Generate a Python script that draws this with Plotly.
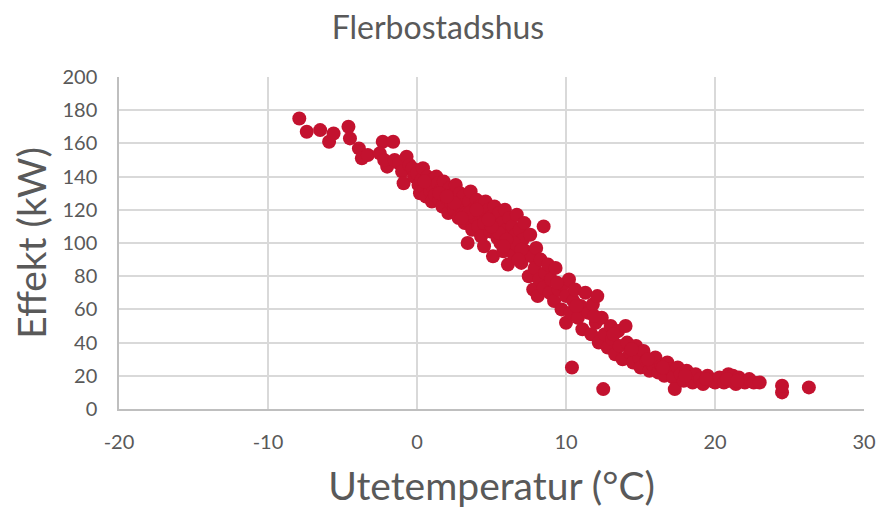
import plotly.graph_objects as go

title_text = "Flerbostadshus"
x_title = "Utetemperatur (°C)"
y_title = "Effekt (kW)"

temp_c = [
    -7.9, -7.4, -6.5, -5.9, -5.6, -4.6, -4.5, -3.9, -3.7, -3.3, -2.3, -2.5, -1.6, -2.0, -2.2,
    -1.5, -1.2, -1.0, -0.9, -0.7, -0.5, -0.3, -0.2,
    0.0, 0.1, 0.2, 0.3, 0.4, 0.5, 0.6, 0.7, 0.8, 0.9, 1.0, 1.0, 1.1, 1.2, 1.3, 1.4, 1.5,
    1.6, 1.7, 1.8, 1.9, 2.0, 2.1, 2.2, 2.3, 2.4, 2.5, 2.6, 2.7, 2.8, 2.9, 3.0, 3.1, 3.2,
    3.3, 3.4, 3.5, 3.6, 3.7, 3.8, 3.9, 4.0, 4.1, 4.2, 4.3, 4.4, 4.5, 4.6, 4.7, 4.8, 4.9,
    5.0, 5.1, 5.2, 5.3, 5.4, 5.5, 5.6, 5.7, 5.8, 5.9, 6.0, 6.1, 6.2, 6.3, 6.4, 6.5, 6.6,
    6.7, 6.8, 6.9, 7.0, 7.1, 7.2, 7.3, 7.5, 7.6, 7.7, 7.8, 7.9, 8.0, 8.1, 8.2, 8.3, 8.5,
    8.5, 8.6, 8.8, 8.9, 9.0, 9.2, 9.3, 9.5, 9.7, 9.8, 10.0, 10.0, 10.2, 10.3, 10.4, 10.5,
    10.6, 10.8, 11.0, 11.1, 11.3, 11.5, 11.7, 11.8, 12.0, 12.1, 12.2, 12.5, 12.4, 12.6,
    12.8, 13.0, 13.1, 13.3, 13.5, 13.6, 13.8, 14.0, 14.1, 14.3, 14.5, 14.7, 14.9, 15.0,
    15.2, 15.4, 15.6, 15.8, 16.0, 16.2, 16.4, 16.6, 16.8, 17.0, 17.2, 17.3, 17.5, 17.7,
    17.9, 18.1, 18.3, 18.5, 18.7, 19.0, 19.2, 19.5, 19.8, 20.0, 20.3, 20.6, 20.9, 21.0,
    21.2, 21.4, 21.6, 21.8, 22.0, 22.3, 22.6, 23.0, 24.5, 24.5, 26.3,
    0.5, 1.5, 2.5, 3.5, 4.5, 5.5, 6.5, 2.0, 3.0, 4.0, 5.0, 6.0, 7.0, 4.8, 5.8, 6.8,
    9.4, 10.7, 11.9, 13.2, 14.4, 15.5, 16.5, 18.0, 19.4, 20.8, 21.5,
]
effekt_kw = [
    175, 167, 168, 161, 166, 170, 163, 157, 151, 153, 161, 154, 161, 146, 150,
    150, 148, 143, 136, 152, 147, 145, 140,
    142, 135, 130, 138, 145, 133, 128, 140, 136, 131, 125, 138, 133, 129, 140, 136, 126,
    132, 122, 137, 130, 127, 118, 133, 124, 129, 120, 135, 126, 115, 130, 122, 128, 112,
    118, 100, 125, 131, 108, 120, 115, 126, 110, 122, 104, 117, 98, 125, 113, 120, 107,
    116, 92, 122, 110, 103, 118, 100, 112, 95, 120, 108, 87, 115, 100, 110, 93, 105,
    117, 98, 108, 88, 102, 112, 95, 80, 105, 92, 72, 85, 97, 68, 78, 90, 110,
    73, 82, 87, 70, 78, 65, 85, 72, 60, 75, 52, 68, 78, 58, 25, 65,
    72, 55, 62, 48, 70, 58, 45, 63, 52, 68, 40, 12, 55, 45,
    37, 50, 42, 33, 47, 38, 30, 50, 40, 34, 28, 38, 31, 25,
    35, 29, 23, 27, 31, 22, 26, 20, 28, 24, 19, 12, 25, 21,
    17, 23, 19, 16, 21, 18, 15, 20, 17, 16, 19, 16, 21, 17,
    20, 15, 19, 17, 16, 18, 16, 16, 10, 14, 13,
    137, 130, 124, 118, 112, 106, 100, 128, 115, 120, 110, 102, 96, 114, 98, 90,
    76, 62, 56, 45, 36, 30, 25, 20, 18, 18, 17,
]

x_ticks = [-20, -10, 0, 10, 20, 30]
y_ticks = [0, 20, 40, 60, 80, 100, 120, 140, 160, 180, 200]

font_family = "Lato, 'Open Sans', sans-serif"
txt = "#595959"

fig = go.Figure(
    go.Scatter(
        x=temp_c, y=effekt_kw, mode="markers",
        marker=dict(size=14, color="#C3122F", line=dict(width=0)),
        hoverinfo="x+y",
    )
)

fig.update_layout(
    width=880, height=500,
    margin=dict(l=111, r=24, t=69, b=99, autoexpand=False),
    paper_bgcolor="white", plot_bgcolor="white",
    showlegend=False,
    title=dict(text=title_text, x=0.4886, xanchor="center", y=0.961, yanchor="middle",
               font=dict(family=font_family, size=32, color=txt), automargin=False),
    font=dict(family=font_family, color=txt),
)
fig.update_xaxes(
    range=[-20, 30], tickvals=x_ticks, ticktext=[str(v) for v in x_ticks],
    showgrid=True, gridcolor="#D9D9D9", gridwidth=1.5,
    showline=True, linecolor="#BFBFBF", linewidth=1.5,
    zeroline=False, ticks="", ticklabelstandoff=14, automargin=False,
    tickfont=dict(size=20, color=txt),
    title=dict(text=x_title, font=dict(size=39, color=txt), standoff=24),
)
fig.update_yaxes(
    range=[0, 200], tickvals=y_ticks, ticktext=[str(v) for v in y_ticks],
    showgrid=True, gridcolor="#D9D9D9", gridwidth=1.5,
    showline=True, linecolor="#BFBFBF", linewidth=1.5,
    zeroline=False, ticks="", ticklabelstandoff=16, automargin=False,
    tickfont=dict(size=20, color=txt),
    title=dict(text=y_title, font=dict(size=39, color=txt), standoff=7),
)

fig.write_html("out.html")
